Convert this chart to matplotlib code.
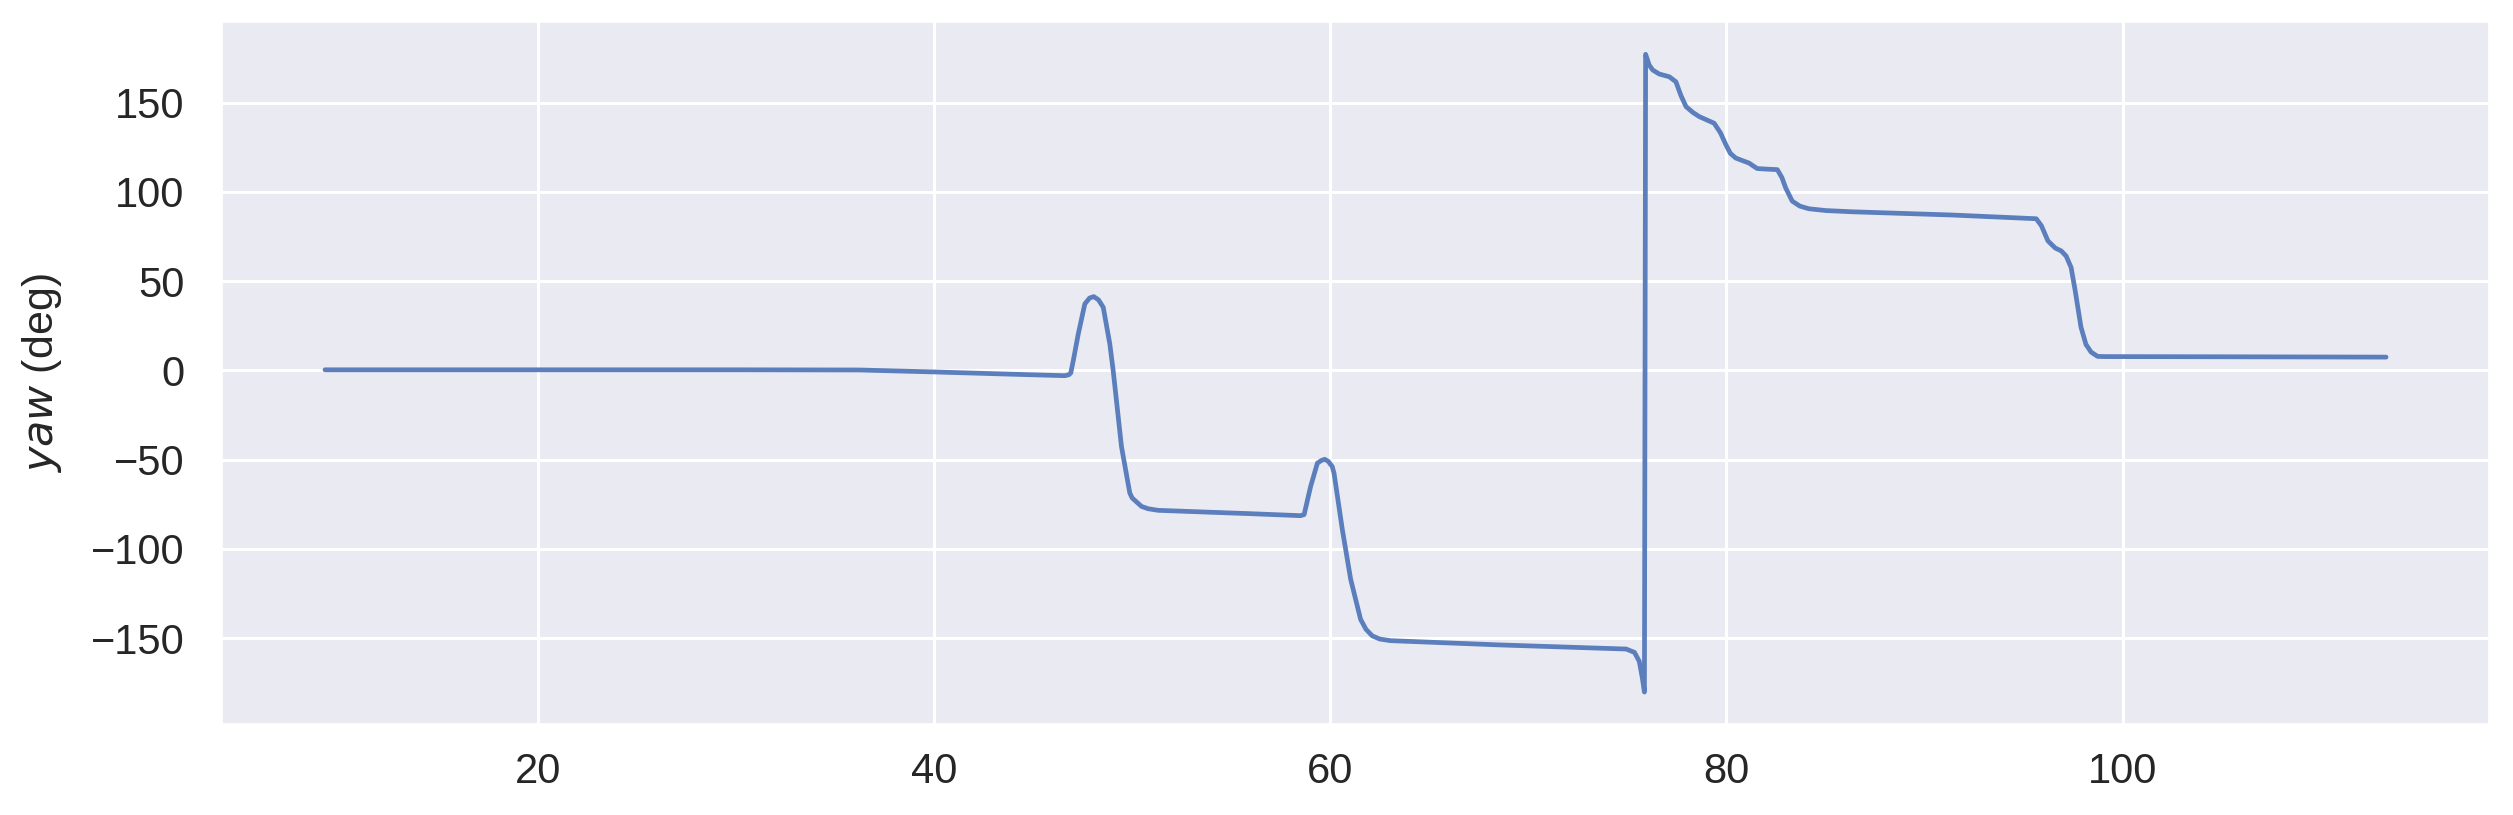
import numpy as np
import matplotlib
matplotlib.use('Agg')
import matplotlib.pyplot as plt
import seaborn as sns

# time (s) and yaw (deg)
time = [9.25, 20, 30, 36.2, 40, 44, 46.6, 46.8, 46.9, 47.03, 47.28, 47.61, 47.85, 48.06,
        48.3, 48.54, 48.87, 49.04, 49.46, 49.88, 50.0, 50.47, 50.8, 51.3, 54, 56, 58.5,
        58.68, 59.01, 59.35, 59.55, 59.72, 59.9, 60.1, 60.19, 60.61, 61.03, 61.53, 61.8,
        62.12, 62.5, 63.04, 68.57, 74.94, 75.36, 75.6, 75.75, 75.86, 75.92, 76.1, 76.28,
        76.6, 77.12, 77.45, 77.7, 77.96, 78.3, 78.63, 79.38, 79.7, 79.97, 80.2, 80.47,
        80.8, 81.14, 81.35, 81.56, 82.2, 82.57, 82.8, 82.99, 83.32, 83.7, 84.16, 85.0,
        86.34, 91.37, 95.64, 95.9, 96.23, 96.6, 96.9, 97.15, 97.4, 97.6, 97.9, 98.15,
        98.41, 98.74, 99.1, 105, 113.3]
yaw = [0.3, 0.3, 0.3, 0.2, -0.9, -2.2, -3.0, -2.5, -1.5, 5.6, 20.4, 37.2, 40.5, 41.3,
       39.5, 35.3, 14.9, 0.0, -42.7, -68.7, -71.5, -76.2, -77.5, -78.4, -79.5, -80.3, -81.4,
       -80.8, -65.0, -52.0, -50.5, -49.8, -51.0, -53.9, -57.6, -89.2, -117.0, -139.4, -145.0,
       -148.7, -150.5, -151.4, -153.8, -156.1, -158.0, -163.0, -172.0, -180.2, 177.0, 171.0, 168.2,
       166.0, 164.4, 161.6, 154.0, 147.7, 144.5, 142.1, 138.4, 133.0, 126.4, 121.5, 118.9,
       117.5, 116.1, 114.5, 113.0, 112.6, 112.4, 108.0, 102.2, 94.8, 92.0, 90.5, 89.5,
       88.8, 87.0, 84.9, 81.0, 72.5, 68.5, 66.9, 64.0, 57.6, 45.0, 24.1, 14.5,
       10.2, 7.8, 7.7, 7.6, 7.4]

xticks = [20, 40, 60, 80, 100]
yticks = [-150, -100, -50, 0, 50, 100, 150]

sns.set_theme(style='darkgrid')
plt.rcParams['font.family'] = ['Liberation Sans', 'DejaVu Sans']

fig = plt.figure(figsize=(25.13, 8.15), dpi=100)
ax = fig.add_axes([0.0883, 0.1117, 0.9022, 0.8608])

ax.plot(time, yaw, color='#5b7ebd', linewidth=3.4, solid_joinstyle='round')

ax.set_xticks(xticks)
ax.set_yticks(yticks)
ax.grid(color='white', linewidth=2.2)
ax.tick_params(axis='both', labelsize=30, length=0, colors='#262626')
ax.tick_params(axis='x', pad=20)
ax.tick_params(axis='y', pad=27)
ax.set_ylabel('$yaw$ (deg)', fontsize=31, color='#262626', labelpad=19)

fig.savefig('out.png', dpi=100)
